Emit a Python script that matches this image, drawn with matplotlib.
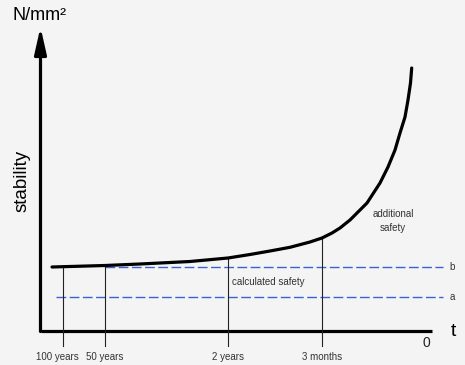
import matplotlib.pyplot as plt

plt.rcParams['font.family'] = ['Liberation Sans', 'DejaVu Sans']

# schematic drawn in pixel-like units (x to the right, y downwards)
curve_x = [52, 105, 140, 190, 228, 250, 270, 290, 310, 322, 332, 340, 350,
           367, 380, 388, 395, 400, 405, 408, 410.5, 411.7]
curve_y = [267, 265.5, 264, 261.5, 258, 254.5, 251, 247.3, 242, 238, 233,
           228, 220, 203, 183, 167, 150, 133, 117, 100, 83, 68]

tick_x = [63, 105, 228, 322]
tick_top = [267, 265.5, 258, 238]
tick_labels = ['100 years', '50 years', '2 years', '3 months']

levels = {'b': 266.5, 'a': 297}
level_start = {'b': 105, 'a': 56}

axis_origin = (40.5, 330.5)
axis_x_end = 432
axis_y_end = 27

fig = plt.figure(figsize=(4.65, 3.65), dpi=100)
fig.patch.set_facecolor('#f4f4f4')
ax = fig.add_axes([0, 0, 1, 1])
ax.set_xlim(0, 465)
ax.set_ylim(365, 0)
ax.axis('off')

# axes
ax.plot([axis_origin[0], axis_x_end], [axis_origin[1], axis_origin[1]],
        color='black', lw=2.3, solid_capstyle='butt')
ax.annotate('', xy=(axis_origin[0], axis_y_end),
            xytext=(axis_origin[0], axis_origin[1] + 1),
            arrowprops=dict(arrowstyle='-|>,head_width=0.36,head_length=1.6',
                            mutation_scale=10, lw=2.3, color='black',
                            shrinkA=0, shrinkB=0))

# dashed reference levels
for name, yv in levels.items():
    ax.plot([level_start[name], 443], [yv, yv], color='#3a62d4', lw=1.0,
            dashes=(7, 2.5))
    ax.text(452, yv, name, ha='center', va='center', fontsize=7, color='#333333')

# vertical markers
for xv, top, lab in zip(tick_x, tick_top, tick_labels):
    ax.plot([xv, xv], [top, 346], color='#222222', lw=0.8)
    ax.text(xv - (6 if lab == '100 years' else 0), 357, lab, ha='center',
            va='center', fontsize=7, color='#333333')

# stability curve
ax.plot(curve_x, curve_y, color='black', lw=2.3, solid_capstyle='round',
        solid_joinstyle='round')

ax.text(12, 20, 'N/mm²', ha='left', va='baseline', fontsize=13, color='black')
ax.text(22, 181, 'stability', rotation=90, ha='center', va='center',
        fontsize=13.5, color='black')
ax.text(453, 331, 't', ha='center', va='center', fontsize=14, color='black')
ax.text(426, 343, '0', ha='center', va='center', fontsize=10, color='#222222')
ax.text(268, 282, 'calculated safety', ha='center', va='center', fontsize=7,
        color='#333333')
ax.text(393, 221, 'additional\nsafety', ha='center', va='center', fontsize=7,
        color='#333333', linespacing=1.5)

fig.savefig('out.png', dpi=100, facecolor=fig.get_facecolor())
